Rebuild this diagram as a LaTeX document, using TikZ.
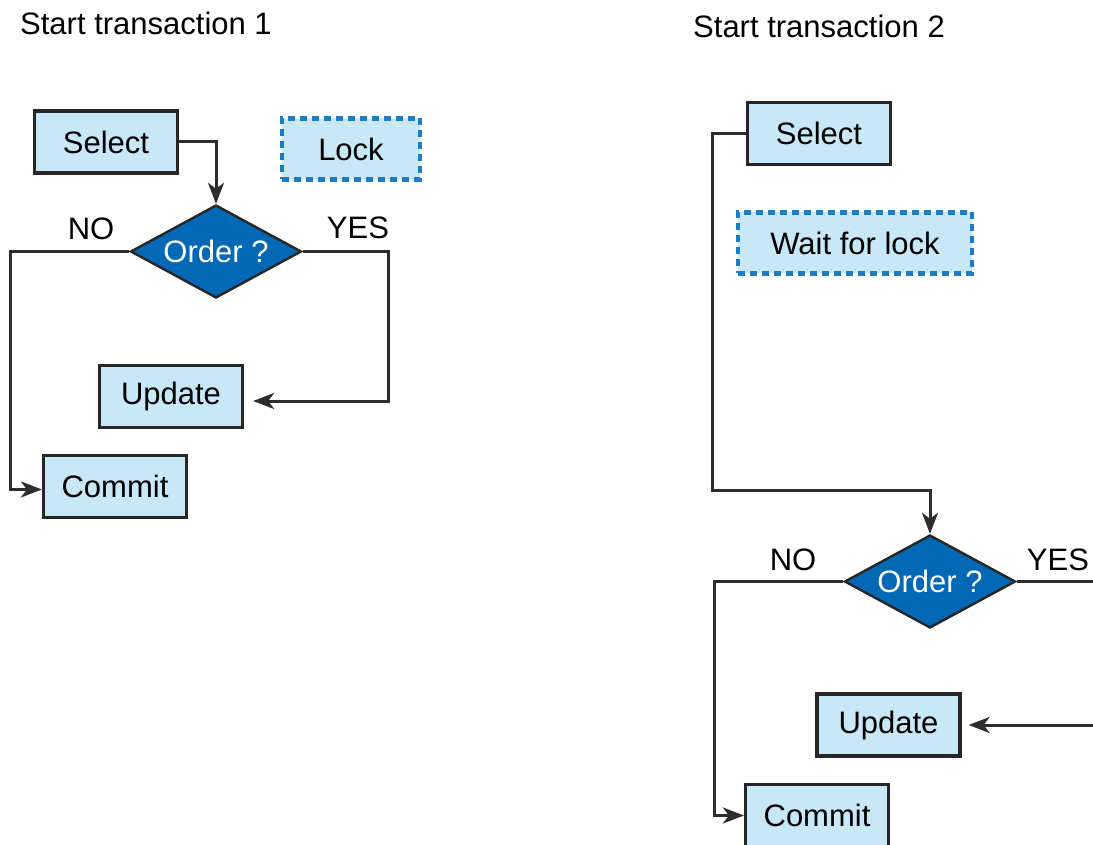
\documentclass[tikz,border=0pt]{standalone}
\usepackage{fontspec}
\setmainfont{Liberation Sans}
\usetikzlibrary{shapes.geometric,arrows.meta}
\definecolor{boxfill}{RGB}{200,232,248}
\definecolor{decfill}{RGB}{0,104,180}
\definecolor{lockblue}{RGB}{27,125,198}
\definecolor{wire}{RGB}{45,45,45}
\tikzset{
  txt/.style={font=\fontsize{31}{36}\selectfont},
  stepbox/.style={txt, draw=black!85, line width=3.2pt, fill=boxfill,
    minimum width=143pt, minimum height=62pt, inner sep=0pt},
  lockbox/.style={txt, draw=lockblue, line width=4.2pt, fill=boxfill,
    dash pattern=on 7pt off 5pt, minimum height=61pt, inner sep=0pt},
  decision/.style={txt, diamond, aspect=1.84, draw=black!85, line width=2.4pt,
    fill=decfill, text=white, minimum width=171pt, minimum height=93pt, inner sep=0pt},
  wireline/.style={draw=wire, line width=3pt},
  flow/.style={wireline, -{Stealth[length=21pt,width=16pt,inset=6pt]}},
  label/.style={txt, inner sep=0pt}
}
\begin{document}
\begin{tikzpicture}[x=1pt,y=-1pt]
\useasboundingbox (0,0) rectangle (1093,845);

% ---- transaction 1 ----
\node[label, anchor=west] (t1) at (20,23) {Start transaction 1};
\node[stepbox] (sel1) at (106,142) {Select};
\node[lockbox, minimum width=138pt] (lock1) at (351,149) {Lock};
\node[decision] (d1) at (216,251.5) {Order ?};
\node[label] (no1) at (91,229) {NO};
\node[label] (yes1) at (358,228) {YES};
\node[stepbox] (upd1) at (171,396.5) {Update};
\node[stepbox] (com1) at (115,486.5) {Commit};

\coordinate (n1) at (10,251.5);
\coordinate (y1) at (388,251.5);
\draw[flow] (sel1.east) -| (d1.north);
\draw[flow] (d1.west) -- (n1) |- ([yshift=-3pt]com1.west);
\draw[flow, shorten >=9pt] (d1.east) -- (y1) |- ([yshift=-4.5pt]upd1.east);

% ---- transaction 2 ----
\node[label, anchor=west] (t2) at (693,26) {Start transaction 2};
\node[stepbox] (sel2) at (819,133.5) {Select};
\node[lockbox, minimum width=234pt] (wait2) at (855,243) {Wait for lock};
\node[decision] (d2) at (930,581.5) {Order ?};
\node[label] (no2) at (793,560) {NO};
\node[label] (yes2) at (1058,560) {YES};
\node[stepbox] (upd2) at (888.5,725) {Update};
\node[stepbox] (com2) at (817,815.5) {Commit};

\coordinate (b2) at (712,490);
\coordinate (n2) at (714,581.5);
\coordinate (y2) at (1093,581.5);
\coordinate (e2) at (1093,725);
\draw[flow] (sel2.west) -| (b2) -| (d2.north);
\draw[flow] (d2.west) -- (n2) |- (com2.west);
\draw[wireline] (d2.east) -- (y2);
\draw[flow, shorten >=7pt] (e2) -- (upd2.east);
\end{tikzpicture}
\end{document}
